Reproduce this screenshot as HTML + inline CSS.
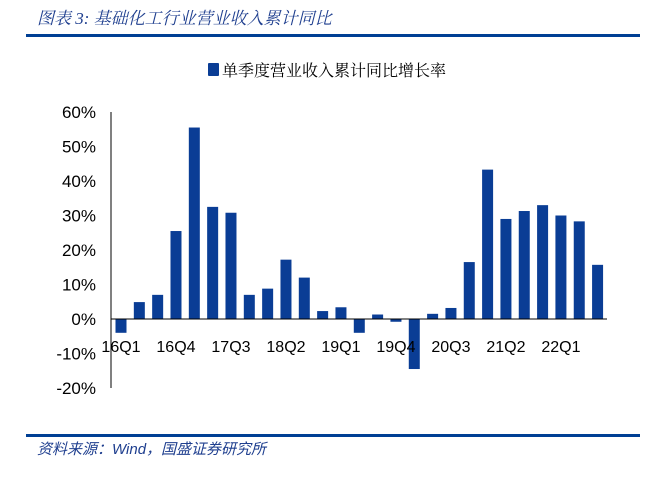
<!DOCTYPE html>
<html><head><meta charset="utf-8"><style>
body{margin:0;width:661px;height:502px;background:#fff;position:relative;overflow:hidden;font-family:"Liberation Sans","Noto Sans CJK SC",sans-serif}
.t{position:absolute;left:37px;top:4px;font-size:17px;font-style:italic;color:#1f3f8f;font-family:"Liberation Serif","Noto Serif CJK SC",serif}
.f{position:absolute;left:37px;top:438px;font-size:15px;font-style:italic;color:#1f3f8f}
.l{position:absolute;left:26px;width:614px;background:#003f94}
</style></head><body>
<div class="t">图表 3:  基础化工行业营业收入累计同比</div>
<div class="l" style="top:34px;height:3px"></div>
<svg width="661" height="502" style="position:absolute;left:0;top:0" id="c"></svg>
<div class="l" style="top:434px;height:3px"></div>
<div class="f">资料来源：Wind，国盛证券研究所</div>
<script>
const categories=["16Q1","16Q2","16Q3","16Q4","17Q1","17Q2","17Q3","17Q4","18Q1","18Q2","18Q3","18Q4","19Q1","19Q2","19Q3","19Q4","20Q1","20Q2","20Q3","20Q4","21Q1","21Q2","21Q3","21Q4","22Q1","22Q2","22Q3"];
const values=[-4,4.9,7,25.5,55.5,32.5,30.8,7,8.8,17.2,12,2.3,3.4,-4,1.3,-0.8,-14.5,1.5,3.2,16.5,43.3,29,31.3,33,30,28.3,15.7];
const yTicks=[60,50,40,30,20,10,0,-10,-20];
const xLabelEvery=3;
const NS="http://www.w3.org/2000/svg",svg=document.getElementById('c');
const y=v=>319-v*3.45, x=i=>121+i*18.33;
function mk(t,a){const e=document.createElementNS(NS,t);for(const k in a)e.setAttribute(k,a[k]);svg.appendChild(e);return e;}
yTicks.forEach(v=>{const e=mk('text',{x:96,y:y(v)+6,'text-anchor':'end','font-size':17,fill:'#000','font-family':'Liberation Sans, sans-serif'});e.textContent=v+'%';

});
const ax=mk('line',{x1:111,x2:111,y1:y(60),y2:y(-20),stroke:'#000','stroke-width':1});


values.forEach((v,i)=>{const r=mk('rect',{x:x(i)-5.5,y:Math.min(y(v),y(0)),width:11,height:Math.abs(y(v)-y(0)),fill:'#0a3d95'});

});
const xa=mk('line',{x1:111,x2:607,y1:y(0),y2:y(0),stroke:'#000','stroke-width':1});


categories.forEach((c,i)=>{if(i%xLabelEvery)return;const e=mk('text',{x:x(i),y:352,'text-anchor':'middle','font-size':16,fill:'#000','font-family':'Liberation Sans, sans-serif'});e.textContent=c;

});
const lg=mk('rect',{x:208,y:63,width:11,height:13,fill:'#0a3d95',rx:1});


const lt=mk('text',{x:222,y:76,'font-size':16,fill:'#000','font-family':'Noto Serif CJK SC, serif'});lt.textContent='单季度营业收入累计同比增长率';


</script>
</body></html>
